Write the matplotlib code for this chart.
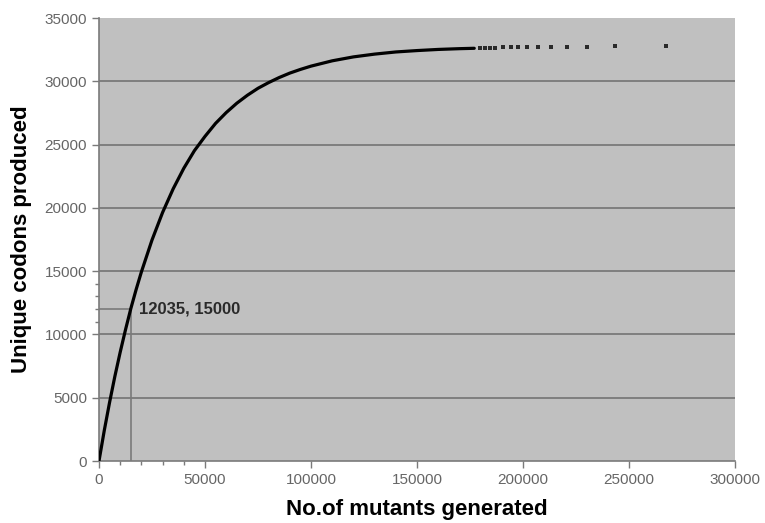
import matplotlib
matplotlib.use('Agg')
import matplotlib.pyplot as plt

# ── data ─────────────────────────────────────────────────────────────────────
mutants = [0, 2500, 5000, 7500, 10000, 12500, 15000, 17500, 20000, 25000,
           30000, 35000, 40000, 45000, 50000, 55000, 60000, 65000, 70000,
           75000, 80000, 85000, 90000, 95000, 100000, 110000, 120000,
           130000, 140000, 150000, 160000, 170000, 177000]
codons = [0, 2420, 4640, 6700, 8600, 10370, 12035, 13540, 14940, 17460,
          19640, 21510, 23130, 24520, 25650, 26680, 27530, 28270, 28900,
          29450, 29900, 30300, 30650, 30940, 31200, 31620, 31930, 32150,
          32320, 32430, 32520, 32580, 32610]

tail_x = [179500, 182000, 184500, 186800, 190600, 194300, 197600, 201900,
          207100, 213200, 220800, 230200, 243400, 267500]
tail_y = [32620, 32635, 32650, 32660, 32680, 32690, 32700, 32710,
          32720, 32730, 32740, 32750, 32760, 32767]

marked_x, marked_y = 15000, 12035
x_ticks = [0, 50000, 100000, 150000, 200000, 250000, 300000]
y_ticks = [0, 5000, 10000, 15000, 20000, 25000, 30000, 35000]

plt.rcParams['font.family'] = ['Liberation Sans', 'DejaVu Sans']

fig = plt.figure(figsize=(7.65, 5.23), dpi=100)
ax = fig.add_axes([0.1294, 0.1185, 0.8314, 0.847])
ax.set_facecolor('#c0c0c0')

ax.set_xlim(0, 300000)
ax.set_ylim(0, 35000)

# horizontal gridlines (skip the top)
for y in y_ticks[1:-1]:
    ax.axhline(y, color='#7a7a7a', lw=1.3, zorder=1)

# drop lines to the marked point
ax.plot([marked_x, marked_x], [0, marked_y], color='#7a7a7a', lw=1.2, zorder=2)
ax.plot([0, marked_x], [marked_y, marked_y], color='#7a7a7a', lw=1.2, zorder=2)
ax.text(marked_x + 3800, marked_y, f'{marked_y}, {marked_x}',
        fontsize=12, fontweight='bold', color='#2a2a2a',
        va='center', ha='left', zorder=5)

# curve + sparse tail
ax.plot(mutants, codons, color='black', lw=2.3, solid_capstyle='round', zorder=4)
ax.scatter(tail_x, tail_y, s=8, marker='s', color='#2a2a2a', lw=0, zorder=4)

for side in ('top', 'right'):
    ax.spines[side].set_visible(False)
for side in ('left', 'bottom'):
    ax.spines[side].set_color('#7a7a7a')
    ax.spines[side].set_linewidth(1.2)

ax.set_xticks(x_ticks)
ax.set_yticks(y_ticks)
ax.set_xticks([10000, 20000, 30000, 40000], minor=True)
ax.set_yticks([11000, 12000, 13000, 14000], minor=True)
ax.set_xticklabels([str(v) for v in x_ticks])
ax.set_yticklabels([str(v) for v in y_ticks])
ax.tick_params(which='major', length=5, color='#7a7a7a', labelsize=11,
               labelcolor='#666666', width=1)
ax.tick_params(which='minor', length=3, color='#7a7a7a', width=1)

ax.set_xlabel('No.of mutants generated', fontsize=16, fontweight='bold', labelpad=9)
ax.set_ylabel('Unique codons produced', fontsize=16, fontweight='bold', labelpad=9)

fig.savefig('out.png', dpi=100, facecolor='white')
plt.close(fig)
